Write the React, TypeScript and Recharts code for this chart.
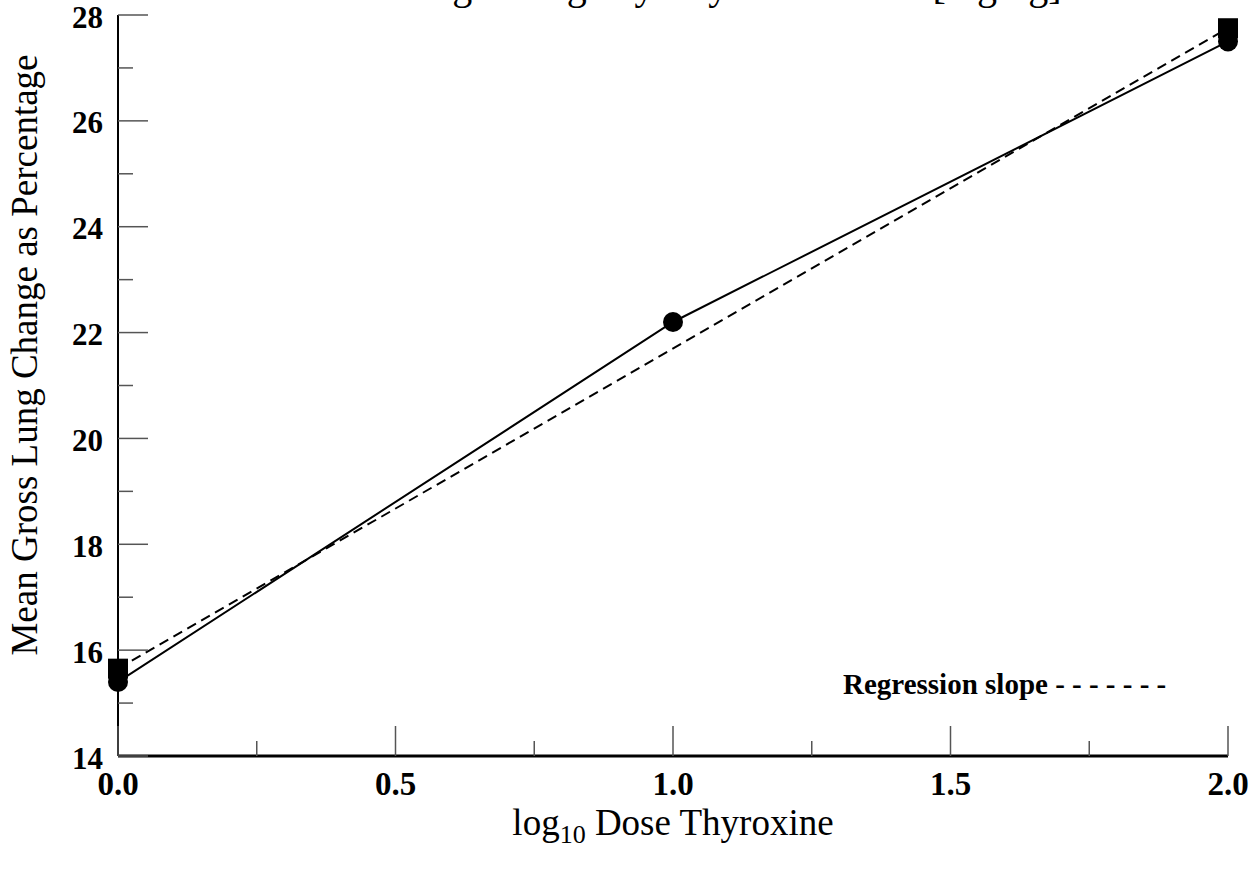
import type { JSX } from 'react';
import { Label, Legend, Line, LineChart, XAxis, YAxis } from 'recharts';

// observed means
const doseLog = [0, 1, 2];
const meanChange = [15.4, 22.2, 27.5];

// fitted regression, drawn at the two ends only
const regressionDose = [0, 2];
const regressionChange = [15.65, 27.75];

const xTicks = [0, 0.25, 0.5, 0.75, 1, 1.25, 1.5, 1.75, 2];
const yTicks = [14, 15, 16, 17, 18, 19, 20, 21, 22, 23, 24, 25, 26, 27, 28];

const observed = doseLog.map((x, i) => ({ x, y: meanChange[i] }));
const regression = regressionDose.map((x, i) => ({ x, y: regressionChange[i] }));

const SERIF = '"Liberation Serif", "Times New Roman", serif';

function XTick(props: any): JSX.Element {
  const { x, y, payload } = props;
  const major = Math.abs(payload.value * 2 - Math.round(payload.value * 2)) < 1e-6;
  return (
    <g>
      <line x1={x} x2={x} y1={y} y2={y - (major ? 30 : 15)} stroke="#555" strokeWidth={1.5} />
      {major && (
        <text
          x={x}
          y={y + 28}
          textAnchor="middle"
          dominantBaseline="central"
          fontFamily={SERIF}
          fontWeight="bold"
          fontSize={33}
          fill="#000"
        >
          {payload.value.toFixed(1)}
        </text>
      )}
    </g>
  );
}

function YTick(props: any): JSX.Element {
  const { x, y, payload } = props;
  const major = payload.value % 2 === 0;
  return (
    <g>
      <line x1={x} x2={x + (major ? 30 : 15)} y1={y} y2={y} stroke="#555" strokeWidth={1.5} />
      {major && (
        <text
          x={x - 15}
          y={y + 2}
          textAnchor="end"
          dominantBaseline="central"
          fontFamily={SERIF}
          fontWeight="bold"
          fontSize={31}
          fill="#000"
        >
          {payload.value}
        </text>
      )}
    </g>
  );
}

function SquareDot(props: any): JSX.Element {
  const { cx, cy } = props;
  return <rect x={cx - 10} y={cy - 10} width={20} height={20} fill="#000" />;
}

export default function App(): JSX.Element {
  return (
    <div style={{ position: 'absolute', top: 0, left: 0 }}>
      <LineChart width={1259} height={872} margin={{ top: 15, right: 31, bottom: 0, left: 0 }}>
        <XAxis
          dataKey="x"
          type="number"
          domain={[0, 2]}
          ticks={xTicks}
          interval={0}
          height={116}
          tickLine={false}
          tickSize={0}
          tickMargin={0}
          tick={XTick}
          axisLine={{ stroke: '#000', strokeWidth: 3 }}
        >
          <Label
            content={() => (
              <text x={673} y={835} textAnchor="middle" fontFamily={SERIF} fontSize={37} fill="#000">
                log
                <tspan fontSize={26} dy={8}>10</tspan>
                <tspan dy={-8}> Dose Thyroxine</tspan>
              </text>
            )}
          />
          <Label
            content={() => (
              <text x={673} y={-1} textAnchor="middle" fontFamily={SERIF} fontSize={40} fill="#000">
                Gross Lung Change by Thyroxine Dose [mg/kg]
              </text>
            )}
          />
        </XAxis>
        <XAxis
          xAxisId="top"
          orientation="top"
          dataKey="x"
          type="number"
          domain={[0, 2]}
          height={0}
          tick={false}
          tickLine={false}
          axisLine={{ stroke: '#777', strokeWidth: 2 }}
        />
        <YAxis
          type="number"
          domain={[14, 28]}
          ticks={yTicks}
          interval={0}
          width={118}
          tickLine={false}
          tickSize={0}
          tickMargin={0}
          tick={YTick}
          axisLine={{ stroke: '#000', strokeWidth: 2 }}
        >
          <Label
            content={() => (
              <text
                x={0}
                y={0}
                transform="translate(37, 355) rotate(-90)"
                textAnchor="middle"
                fontFamily={SERIF}
                fontSize={37}
                fill="#000"
              >
                Mean Gross Lung Change as Percentage
              </text>
            )}
          />
        </YAxis>
        <YAxis
          yAxisId="right"
          orientation="right"
          type="number"
          domain={[14, 28]}
          width={0}
          tick={false}
          tickLine={false}
          axisLine={{ stroke: '#000', strokeWidth: 2 }}
        />
        <Legend
          layout="horizontal"
          verticalAlign="middle"
          align="center"
          wrapperStyle={{ left: 843, top: 667, width: 360 }}
          content={() => (
            <div
              style={{
                fontFamily: SERIF,
                fontWeight: 'bold',
                fontSize: 29,
                lineHeight: '34px',
                whiteSpace: 'nowrap',
                color: '#000',
              }}
            >
              Regression slope - - - - - - -
            </div>
          )}
        />
        <Line
          data={regression}
          dataKey="y"
          name="Regression slope"
          stroke="#000"
          strokeWidth={2}
          strokeDasharray="10 6"
          dot={SquareDot}
          isAnimationActive={false}
        />
        <Line
          data={observed}
          dataKey="y"
          name="Mean change"
          stroke="#000"
          strokeWidth={2}
          dot={{ r: 10, fill: '#000', stroke: '#000', strokeWidth: 0 }}
          isAnimationActive={false}
        />
      </LineChart>
    </div>
  );
}
